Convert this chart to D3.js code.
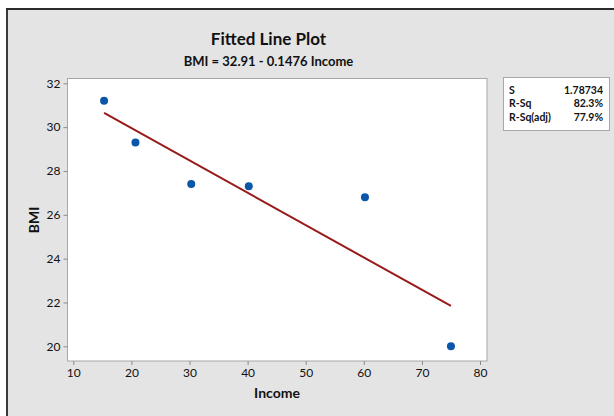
<!DOCTYPE html>
<html><head><meta charset="utf-8">
<script src="https://cdn.jsdelivr.net/npm/d3@7"></script>
<style>
html,body{margin:0;padding:0;background:#fff;}
svg{display:block;}
text{font-family:Lato,"Open Sans",sans-serif;fill:#111;}
</style></head>
<body>
<svg id="chart" width="614" height="416"></svg>
<script>
const income = [15.3, 20.7, 30.3, 40.2, 60.2, 75.0];
const bmi = [31.2, 29.3, 27.4, 27.3, 26.8, 20.0];
const fitIntercept = 32.91;
const fitSlope = -0.1476;
const xTicks = [10, 20, 30, 40, 50, 60, 70, 80];
const yTicks = [20, 22, 24, 26, 28, 30, 32];
const statLabels = ["S", "R-Sq", "R-Sq(adj)"];
const statValues = ["1.78734", "82.3%", "77.9%"];

const svg = d3.select("#chart");
const FONT = "Lato,'Open Sans',sans-serif";
// background panel
svg.append("rect").attr("x",6).attr("y",8).attr("width",608).attr("height",408).attr("fill","#e4e4e4");
svg.append("line").attr("x1",7).attr("x2",7).attr("y1",8).attr("y2",416).attr("stroke","#3a3a3a").attr("stroke-width",2);
svg.append("line").attr("x1",6).attr("x2",614).attr("y1",9).attr("y2",9).attr("stroke","#2a2a2a").attr("stroke-width",2);

const plot = {left:67.5, top:78.5, right:487, bottom:361};
svg.append("rect").attr("x",plot.left).attr("y",plot.top)
  .attr("width",plot.right-plot.left).attr("height",plot.bottom-plot.top)
  .attr("fill","#fff").attr("stroke","#a8a8a8").attr("stroke-width",1);

const x = d3.scaleLinear().domain([10,80]).range([73.3,480]);
const y = d3.scaleLinear().domain([20,32]).range([346.3,83.3]);

const xAxis = svg.append("g").attr("transform",`translate(0,${plot.bottom})`)
  .call(d3.axisBottom(x).tickValues(xTicks).tickSize(4).tickPadding(3).tickFormat(d3.format("d")));
xAxis.select(".domain").remove();
xAxis.selectAll("line").attr("stroke","#8a8a8a");
xAxis.selectAll("text").style("font-size","12px").style("font-family",FONT).attr("fill","#111");

const yAxis = svg.append("g").attr("transform",`translate(${plot.left},0)`)
  .call(d3.axisLeft(y).tickValues(yTicks).tickSize(4).tickPadding(3).tickFormat(d3.format("d")));
yAxis.select(".domain").remove();
yAxis.selectAll("line").attr("stroke","#8a8a8a");
yAxis.selectAll("text").style("font-size","12px").style("font-family",FONT).attr("fill","#111");

// fitted line
const xr = d3.extent(income);
const fitPts = xr.map(v => [v, fitIntercept + fitSlope*v]);
svg.append("path").datum(fitPts)
  .attr("d", d3.line().x(d=>x(d[0])).y(d=>y(d[1])))
  .attr("fill","none").attr("stroke","#981a1a").attr("stroke-width",2);

// points
svg.selectAll("circle.pt").data(income.map((v,i)=>[v,bmi[i]])).join("circle")
  .attr("class","pt").attr("cx",d=>x(d[0])).attr("cy",d=>y(d[1])).attr("r",4)
  .attr("fill","#0a56a8");

// titles
svg.append("text").attr("x",268.5).attr("y",45).attr("text-anchor","middle")
  .style("font-size","17px").style("font-weight","bold").text("Fitted Line Plot");
svg.append("text").attr("x",268.5).attr("y",66).attr("text-anchor","middle")
  .style("font-size","13px").style("font-weight","bold").text("BMI = 32.91 - 0.1476 Income");

// axis titles
svg.append("text").attr("x",277).attr("y",398).attr("text-anchor","middle")
  .style("font-size","14px").style("font-weight","bold").text("Income");
svg.append("text").attr("transform","translate(39,220) rotate(-90)").attr("text-anchor","middle")
  .style("font-size","14px").style("font-weight","bold").text("BMI");

// stats box
svg.append("rect").attr("x",503.5).attr("y",77.5).attr("width",106).attr("height",53)
  .attr("fill","#fff").attr("stroke","#a8a8a8");
statLabels.forEach((s,i)=>{
  svg.append("text").attr("x",509).attr("y",94+i*13.3).style("font-size","10.5px").style("font-weight","bold").text(s);
  svg.append("text").attr("x",603).attr("y",94+i*13.3).attr("text-anchor","end").style("font-size","10.5px").style("font-weight","bold").text(statValues[i]);
});
</script>
</body></html>
